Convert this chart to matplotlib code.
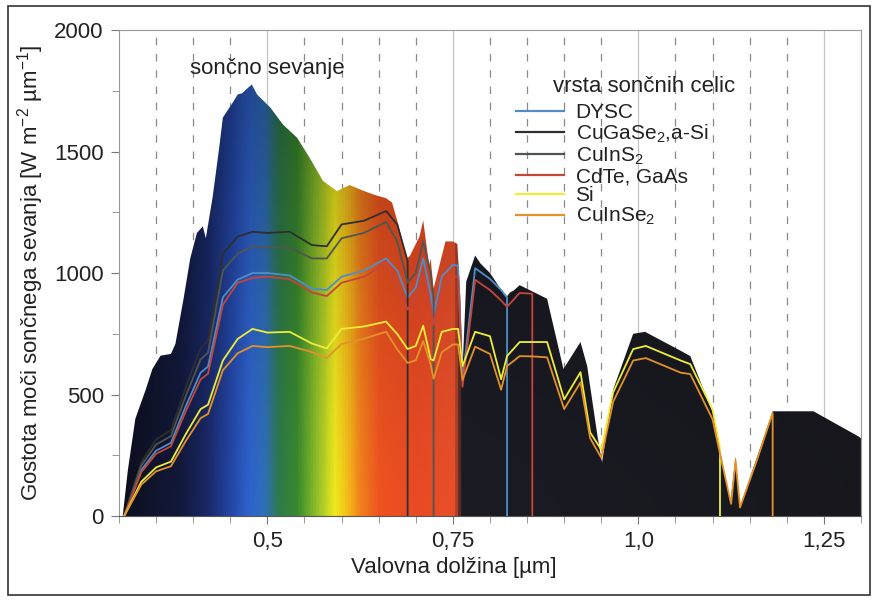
import numpy as np
import matplotlib
matplotlib.use("Agg")
import matplotlib.pyplot as plt
from matplotlib.colors import LinearSegmentedColormap
from matplotlib.patches import Polygon, Rectangle
from matplotlib.lines import Line2D

plt.rcParams['font.family'] = ['Liberation Sans', 'DejaVu Sans']
plt.rcParams['mathtext.default'] = 'regular'

# solar spectrum outline (wavelength in um, W m-2 um-1)
spec_lam = [0.305, 0.312, 0.322, 0.336, 0.345, 0.356, 0.370, 0.376, 0.387, 0.396,
            0.405, 0.413, 0.417, 0.426, 0.435, 0.440, 0.453, 0.460, 0.466, 0.473,
            0.479, 0.486, 0.504, 0.521, 0.540, 0.557, 0.575, 0.594, 0.602, 0.611,
            0.628, 0.645, 0.660, 0.668, 0.676, 0.688, 0.692, 0.705, 0.710, 0.718,
            0.720, 0.724, 0.740, 0.750, 0.756, 0.760, 0.763, 0.768, 0.780, 0.787,
            0.800, 0.814, 0.822, 0.827, 0.832, 0.840, 0.860, 0.877, 0.899, 0.922,
            0.931, 0.945, 0.951, 0.966, 0.993, 1.009, 1.057, 1.070, 1.100, 1.124,
            1.131, 1.137, 1.181, 1.236, 1.297, 1.300]
spec_val = [0, 190, 400, 520, 605, 660, 667, 708, 894, 1060,
            1165, 1192, 1143, 1308, 1515, 1640, 1700, 1735, 1740, 1760,
            1776, 1735, 1681, 1611, 1557, 1474, 1379, 1337, 1350, 1362,
            1340, 1321, 1308, 1290, 1205, 1060, 1070, 1150, 1217, 1031,
            1060, 936, 1130, 1130, 1120, 900, 600, 965, 1072, 1040,
            1000, 936, 900, 920, 928, 950, 920, 894, 605, 716,
            617, 327, 219, 520, 750, 758, 680, 658, 427, 54,
            244, 37, 431, 431, 327, 320]

# solar cell curves on a common wavelength grid (nan beyond the cut-off)
cell_lam = [0.307, 0.33, 0.35, 0.37, 0.39, 0.41, 0.42, 0.44, 0.46, 0.48,
            0.50, 0.53, 0.56, 0.58, 0.60, 0.63, 0.66, 0.675, 0.689, 0.70,
            0.71, 0.72, 0.724, 0.735, 0.75, 0.757, 0.763, 0.78, 0.80, 0.815,
            0.823, 0.84, 0.857, 0.877, 0.90, 0.922, 0.935, 0.95, 0.966, 0.993,
            1.01, 1.057, 1.07, 1.10, 1.11, 1.125, 1.131, 1.137, 1.16, 1.181]
nan = np.nan
dysc = [0, 189, 269, 301, 452, 590, 615, 900, 973, 1000,
        1000, 990, 936, 930, 985, 1010, 1060, 1010, 900, 940,
        1060, 913, 826, 986, 1034, 1030, 560, 1020, 976, 930,
        900] + [nan] * 19
cugase = [0, 221, 315, 353, 529, 691, 720, 1080, 1150, 1170,
          1165, 1170, 1115, 1110, 1200, 1215, 1255, 1200, 1050] + [nan] * 31
cuins = [0, 207, 294, 329, 494, 645, 672, 1010, 1080, 1110,
         1105, 1105, 1060, 1060, 1143, 1165, 1210, 1130, 960, 1000,
         1130, 1000, 900] + [nan] * 27
cdte = [0, 180, 256, 287, 431, 562, 586, 870, 960, 980,
        985, 975, 920, 905, 960, 985, 1040, 958, 850, 895,
        1005, 870, 788, 940, 985, 986, 532, 972, 930, 887,
        861, 918, 915] + [nan] * 17
si = [0, 141, 200, 224, 337, 440, 458, 640, 729, 770,
      755, 758, 710, 690, 770, 780, 800, 749, 687, 700,
      783, 646, 640, 758, 770, 770, 617, 758, 740, 563,
      658, 716, 716, 716, 480, 592, 344, 273, 509, 687,
      700, 640, 625, 439, 280] + [nan] * 5
cuinse = [0, 129, 184, 205, 309, 403, 420, 600, 670, 700,
          695, 700, 675, 650, 708, 730, 758, 686, 630, 641,
          720, 624, 565, 674, 706, 706, 560, 697, 667, 520,
          617, 658, 657, 653, 440, 550, 320, 240, 470, 640,
          650, 590, 584, 398, 257, 50, 230, 35, 232, 424]

cell_names = ['DYSC', r'$CuGaSe_2$,a-Si', r'$CuInS_2$', 'CdTe, GaAs', 'Si', r'$CuInSe_2$']
cell_vals = [dysc, cugase, cuins, cdte, si, cuinse]
cell_colors = ['#4f8ec9', '#2e2e2e', '#4f564f', '#c4463a', '#eeee3a', '#e3922a']

# colours of the spectrum along the wavelength axis
col_lam = [0.300, 0.380, 0.420, 0.450, 0.475, 0.495, 0.515, 0.540, 0.565, 0.590,
           0.605, 0.625, 0.650, 0.700, 0.752, 0.762, 1.300]
col_hex = ['#0d0f1c', '#12183a', '#1a2a6a', '#2447a8', '#2f63cc', '#2f6fb8', '#2e7a4a',
           '#3a8a2c', '#8fbf2a', '#f0e81e', '#f5c21a', '#f2801c', '#ee5320', '#e94a24',
           '#e9502a', '#1b1b24', '#17171d']

x_lo, x_hi = 0.30, 1.30

fig = plt.figure(figsize=(8.77, 6.01), dpi=100)
ax = fig.add_axes([0.1357, 0.1414, 0.846, 0.8086])

# background grid
for k in range(21):
    xv = round(0.30 + 0.05 * k, 2)
    if xv in (0.5, 0.75, 1.0, 1.25):
        ax.axvline(xv, color='#c4c4c4', lw=0.9, zorder=0)
    elif 0.30 < xv < 1.30:
        ax.axvline(xv, color='#8a8a8a', lw=0.9, ls=(0, (6, 7)), zorder=0)

# spectrum filled with a rainbow gradient
cmap = LinearSegmentedColormap.from_list(
    'spec', [((l - x_lo) / (x_hi - x_lo), c) for l, c in zip(col_lam, col_hex)])
nx, ny = 1000, 400
row = cmap(np.linspace(0, 1, nx))[:, :3]
shade = 1 - 0.33 * (np.linspace(0, 1, ny) ** 1.4)
img = row[None, :, :] * shade[:, None, None]
im = ax.imshow(img, extent=(x_lo, x_hi, 0, 2000), origin='lower', aspect='auto',
               interpolation='bilinear', zorder=1)
poly = Polygon(np.column_stack([spec_lam + [spec_lam[-1], spec_lam[0]],
                                spec_val + [0, 0]]),
               closed=True, facecolor='none', edgecolor='none')
ax.add_patch(poly)
im.set_clip_path(poly)

# solar cell curves, each ending with a drop to zero at its cut-off
lam_arr = np.array(cell_lam)
for vals, colr in zip(cell_vals, cell_colors):
    v = np.array(vals, dtype=float)
    ok = ~np.isnan(v)
    xs = list(lam_arr[ok]) + [lam_arr[ok][-1]]
    ys = list(v[ok]) + [0]
    ax.plot(xs, ys, color=colr, lw=1.3, zorder=3)

ax.text(0.50, 1840, 'sončno sevanje', fontsize=16, ha='center', va='center',
        color='#222222')

# legend with its heading as a separate text
ax.text(0.830, 0.884, 'vrsta sončnih celic', transform=ax.transAxes, fontsize=16,
        ha='right', va='center', color='#222222')
handles = [Line2D([], [], color=c, lw=1.6) for c in cell_colors]
leg = ax.legend(handles, cell_names, loc='upper left', bbox_to_anchor=(0.51, 0.888),
                frameon=False, fontsize=15, handlelength=2.3, handletextpad=0.55,
                labelspacing=0.02)
for t in leg.get_texts():
    t.set_color('#222222')

ax.set_xlim(x_lo, x_hi)
ax.set_ylim(0, 2000)
ax.set_xticks([0.5, 0.75, 1.0, 1.25])
ax.set_xticklabels(['0,5', '0,75', '1,0', '1,25'])
ax.set_xticks([round(0.30 + 0.05 * k, 2) for k in range(21)], minor=True)
ax.set_yticks([0, 500, 1000, 1500, 2000])
ax.set_yticks([250, 750, 1250, 1750], minor=True)
ax.tick_params(axis='both', which='major', labelsize=16, length=6, color='#777777',
               labelcolor='#222222', pad=5)
ax.tick_params(axis='both', which='minor', length=5, color='#888888')
ax.set_xlabel('Valovna dolžina [µm]', fontsize=16, color='#222222')
ax.xaxis.set_label_coords(0.451, -0.085)
ax.set_ylabel(r'Gostota moči sončnega sevanja [W m$^{-2}$ µm$^{-1}$]', fontsize=16,
              color='#222222', labelpad=6)
for s in ['top', 'right', 'left']:
    ax.spines[s].set_color('#999999')
ax.spines['bottom'].set_color('#555555')

fig.patches.append(Rectangle((0.009, 0.01), 0.983, 0.98, transform=fig.transFigure,
                             fill=False, edgecolor='#333333', lw=1.2))

fig.savefig('out.png', dpi=100)
